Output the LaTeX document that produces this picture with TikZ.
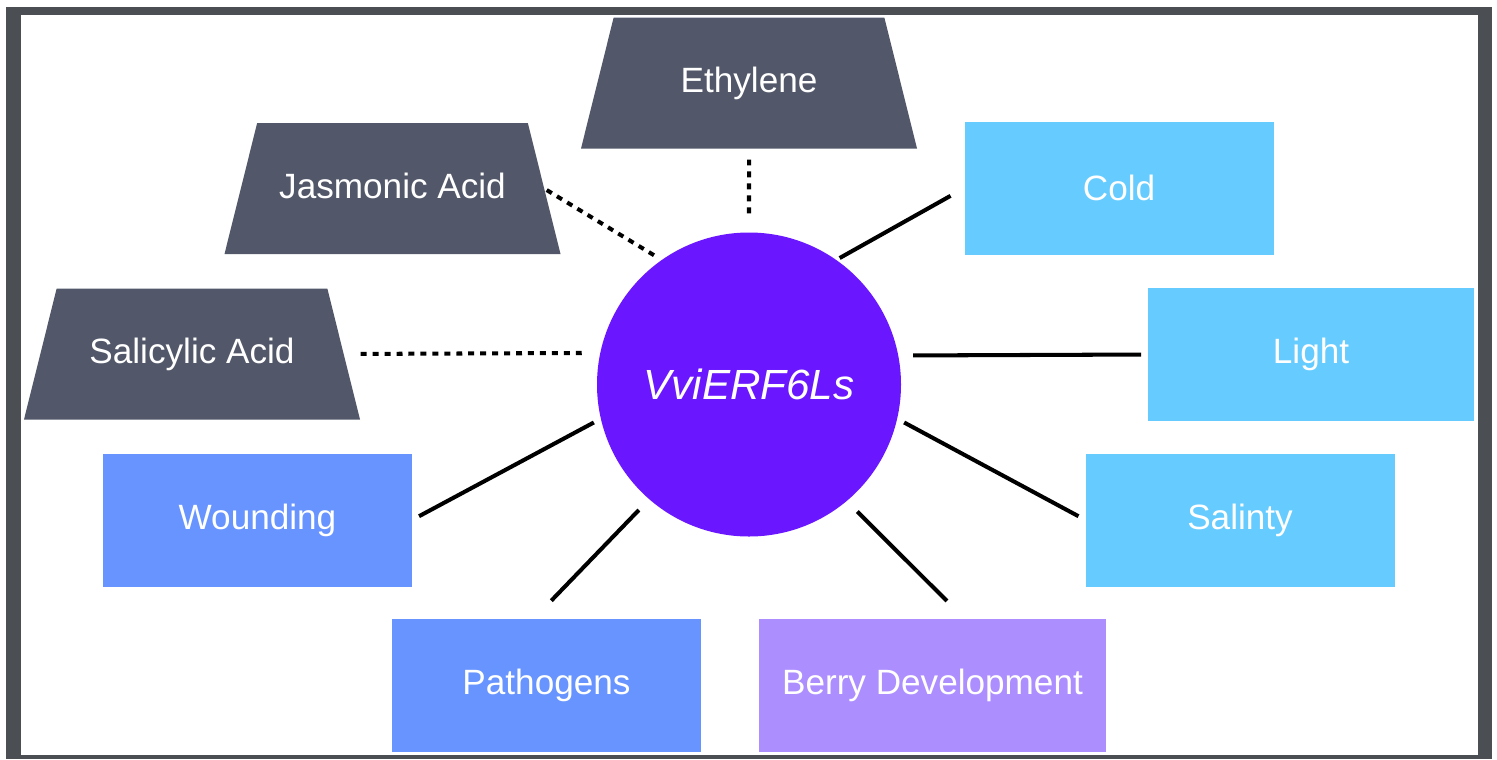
\documentclass[tikz,border=0pt]{standalone}
\usepackage{fontspec}
\setmainfont{Liberation Sans}
\usetikzlibrary{shapes.geometric}
\definecolor{framegray}{HTML}{4B4F53}
\definecolor{hormonegray}{HTML}{525869}
\definecolor{hubviolet}{HTML}{6A17FF}
\definecolor{abioticblue}{HTML}{66CCFF}
\definecolor{bioticblue}{HTML}{6794FF}
\definecolor{berrylilac}{HTML}{AD8EFF}
\tikzset{
    boxtext/.style={text=white, outer sep=0pt, font=\fontsize{20}{24}\selectfont},
    hormone/.style={boxtext, trapezium, trapezium left angle=76, trapezium right angle=76, trapezium stretches body, text height=0.52cm, text depth=0.14cm, inner ysep=0.98cm, minimum width=6.72cm, fill=hormonegray},
    factor/.style={boxtext, rectangle, minimum height=2.66cm, minimum width=6.18cm},
    link/.style={line width=2.3pt},
    hlink/.style={link, dash pattern=on 3.4pt off 3.4pt}
}
\begin{document}
\begin{tikzpicture}
        \fill[white] (0,0) rectangle (29.94,-15.18);
        \useasboundingbox (0,0) rectangle (29.94,-15.18);
        \fill[framegray] (0.12,-0.14) rectangle (29.84,-15.18);
        \fill[white] (0.42,-0.30) rectangle (29.56,-15.10);
        \node[circle, fill=hubviolet, minimum size=6.08cm, inner sep=0pt, outer sep=0pt, text=white, font=\fontsize{24}{28}\selectfont\itshape] (hub) at (14.98,-7.69) {VviERF6Ls};
        \node[hormone] (eth) at (14.98,-1.66) {Ethylene};
        \node[hormone] (jas) at (7.85,-3.77) {Jasmonic Acid};
        \node[hormone] (sal) at (3.84,-7.08) {Salicylic Acid};
        \node[factor, fill=abioticblue] (cold) at (22.38,-3.76) {Cold};
        \node[factor, fill=abioticblue, minimum width=6.52cm] (light) at (26.22,-7.09) {Light};
        \node[factor, fill=abioticblue] (salt) at (24.80,-10.40) {Salinty};
        \node[factor, fill=bioticblue] (wound) at (5.15,-10.40) {Wounding};
        \node[factor, fill=bioticblue] (path) at (10.93,-13.71) {Pathogens};
        \node[factor, fill=berrylilac, minimum width=6.94cm] (berry) at (18.65,-13.71) {Berry Development};
        \draw[hlink, shorten <=0.22cm, shorten >=0.29cm] (eth.south) -- (hub.north);
        \draw[hlink, shorten <=0.06cm, shorten >=0.16cm] (jas.east) -- (hub.125);
        \draw[hlink, shorten <=0.34cm, shorten >=0.26cm] (sal.east) -- (hub.168);
        \draw[link, shorten <=0.08cm, shorten >=0.32cm] (hub.55) -- (cold.west);
        \draw[link, shorten <=0.30cm, shorten >=0.14cm] (hub.11.5) -- (light.west);
        \draw[link, shorten <=0.16cm, shorten >=0.16cm] (hub.-13) -- (salt.west);
        \draw[link, shorten <=0.16cm, shorten >=0.16cm] (hub.193) -- (wound.east);
        \draw[link, shorten <=0.30cm, shorten >=0.51cm] (hub.229) -- (path.101);
        \draw[link, shorten <=0.30cm, shorten >=0.51cm] (hub.310) -- (berry.64);
\end{tikzpicture}
\end{document}
